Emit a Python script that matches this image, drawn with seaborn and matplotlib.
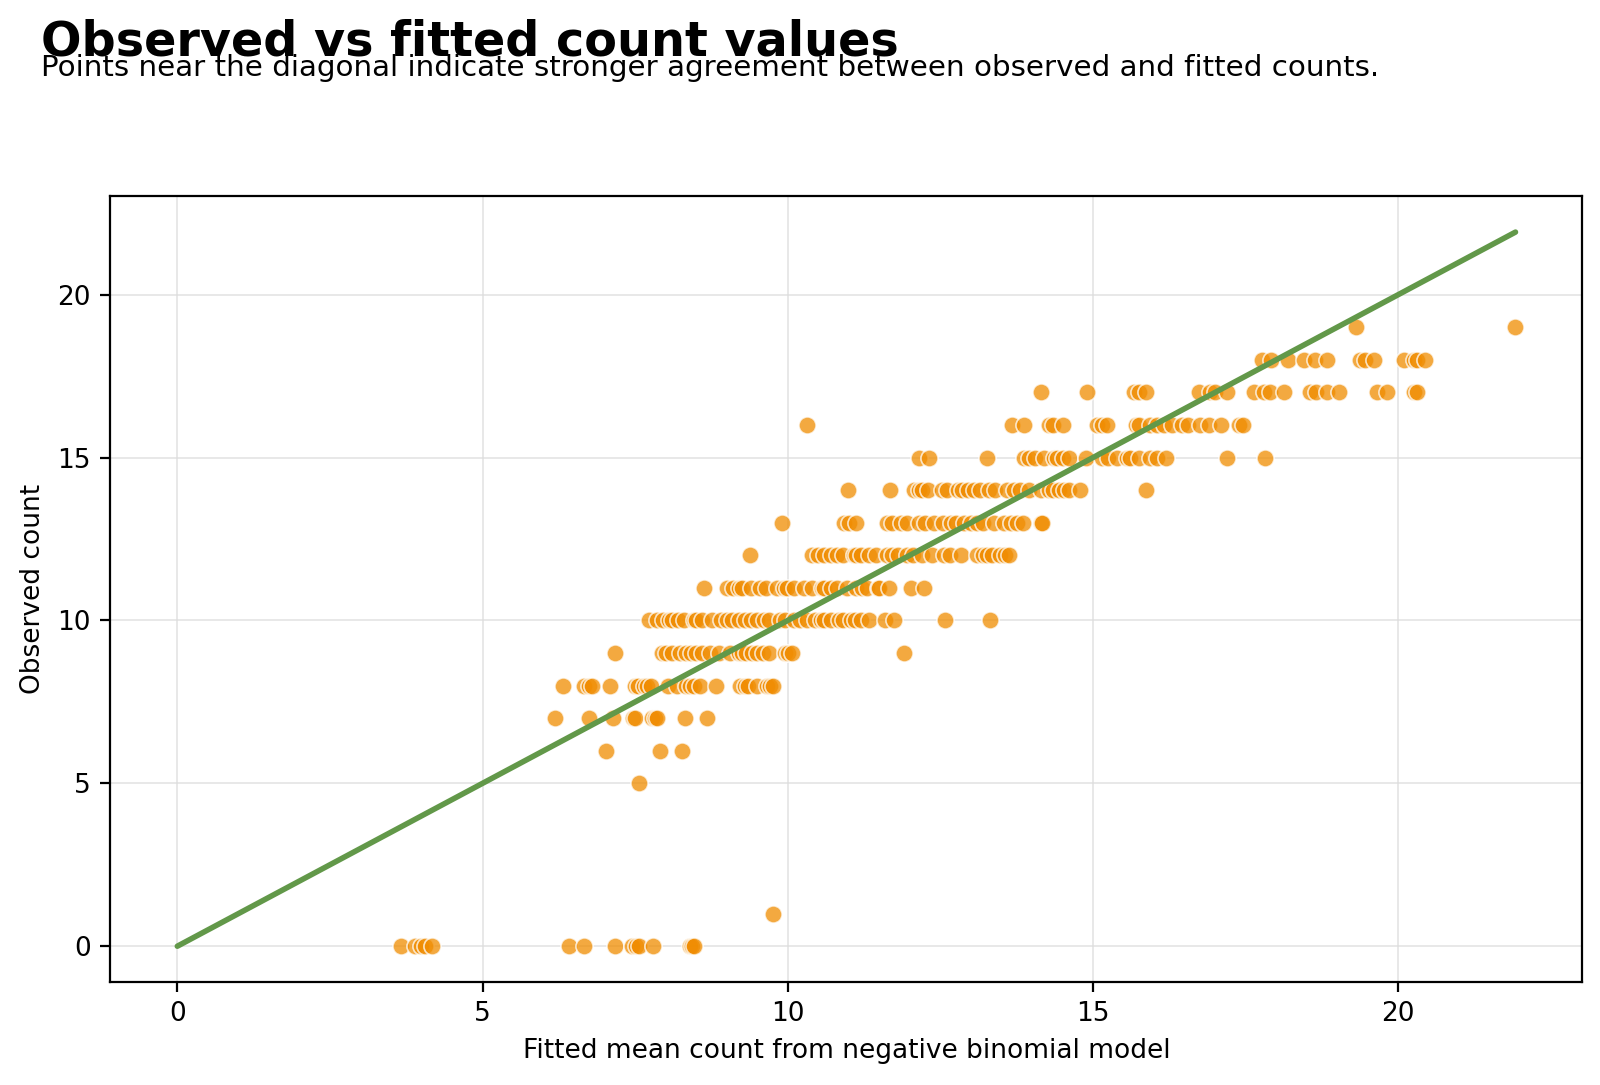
import numpy as np
import pandas as pd
import matplotlib
matplotlib.use("Agg")
import matplotlib.pyplot as plt
import seaborn as sns

# Fitted values, grouped by observed count
fitted_obs_0 = [3.66, 3.90, 3.99, 4.05, 4.18, 6.41, 6.66, 7.17, 7.45, 7.52, 7.56, 7.80, 8.40, 8.43, 8.46]
fitted_obs_1 = [9.76]
fitted_obs_5 = [7.56]
fitted_obs_6 = [7.03, 7.91, 8.26]
fitted_obs_7 = [6.19, 6.74, 7.14, 7.46, 7.50, 7.78, 7.82, 7.86, 8.32, 8.67]
fitted_obs_8 = [6.32, 6.66, 6.75, 6.80, 7.09, 7.50, 7.54, 7.64, 7.70, 7.76, 8.03, 8.19, 8.34,
                8.40, 8.46, 8.57, 8.83, 9.22, 9.30, 9.34, 9.50, 9.66, 9.71, 9.75]
fitted_obs_9 = [7.17, 7.94, 8.00, 8.10, 8.24, 8.33, 8.41, 8.49, 8.60, 8.73, 8.87, 9.05, 9.20,
                9.25, 9.31, 9.42, 9.50, 9.60, 9.69, 9.96, 10.00, 10.07, 11.90]
fitted_obs_10 = [7.73, 7.86, 7.95, 8.05, 8.11, 8.20, 8.30, 8.46, 8.50, 8.60, 8.76, 8.90, 9.00,
                 9.09, 9.20, 9.30, 9.39, 9.50, 9.61, 9.70, 9.88, 9.95, 10.10, 10.20, 10.32,
                 10.45, 10.54, 10.60, 10.70, 10.84, 10.90, 11.03, 11.10, 11.20, 11.33, 11.60,
                 11.74, 12.57, 13.31]
fitted_obs_11 = [8.62, 9.01, 9.10, 9.20, 9.25, 9.40, 9.55, 9.64, 9.83, 9.94, 9.99, 10.10, 10.26,
                 10.40, 10.56, 10.60, 10.70, 10.81, 10.97, 11.11, 11.22, 11.30, 11.47, 11.49,
                 11.66, 12.01, 12.23]
fitted_obs_12 = [9.38, 10.40, 10.50, 10.60, 10.70, 10.81, 10.90, 11.08, 11.11, 11.20, 11.33,
                 11.45, 11.63, 11.70, 11.80, 11.96, 12.05, 12.20, 12.37, 12.56, 12.65, 12.83,
                 13.10, 13.20, 13.27, 13.35, 13.48, 13.55, 13.62]
fitted_obs_13 = [9.90, 10.92, 11.00, 11.11, 11.63, 11.70, 11.85, 11.95, 12.15, 12.25, 12.40,
                 12.55, 12.67, 12.75, 12.88, 13.00, 13.10, 13.20, 13.37, 13.54, 13.65, 13.76,
                 13.85, 14.14, 14.17]
fitted_obs_14 = [10.99, 11.68, 12.07, 12.15, 12.20, 12.30, 12.53, 12.60, 12.78, 12.85, 12.95,
                 13.05, 13.15, 13.29, 13.40, 13.59, 13.70, 13.81, 13.95, 14.14, 14.28, 14.35,
                 14.45, 14.52, 14.60, 14.79, 15.87]
fitted_obs_15 = [12.15, 12.31, 13.27, 13.87, 13.95, 14.05, 14.19, 14.36, 14.41, 14.50, 14.60,
                 14.88, 15.15, 15.25, 15.40, 15.55, 15.61, 15.75, 15.94, 16.05, 16.19, 17.20, 17.82]
fitted_obs_16 = [10.32, 13.68, 13.87, 14.28, 14.35, 14.50, 15.07, 15.15, 15.23, 15.70, 15.75,
                 15.94, 16.05, 16.16, 16.30, 16.46, 16.55, 16.76, 16.90, 17.09, 17.39, 17.45]
fitted_obs_17 = [14.14, 14.90, 15.67, 15.75, 15.86, 16.73, 16.92, 17.00, 17.20, 17.63, 17.80,
                 17.90, 18.12, 18.56, 18.65, 18.83, 19.03, 19.65, 19.82, 20.25, 20.30]
fitted_obs_18 = [17.77, 17.91, 18.20, 18.45, 18.64, 18.83, 19.38, 19.45, 19.60, 20.09, 20.25,
                 20.30, 20.44]
fitted_obs_19 = [19.30, 21.92]

groups = {0: fitted_obs_0, 1: fitted_obs_1, 5: fitted_obs_5, 6: fitted_obs_6, 7: fitted_obs_7,
          8: fitted_obs_8, 9: fitted_obs_9, 10: fitted_obs_10, 11: fitted_obs_11,
          12: fitted_obs_12, 13: fitted_obs_13, 14: fitted_obs_14, 15: fitted_obs_15,
          16: fitted_obs_16, 17: fitted_obs_17, 18: fitted_obs_18, 19: fitted_obs_19}

rows = []
for obs, fits in groups.items():
    for f in fits:
        rows.append((f, obs))
df = pd.DataFrame(rows, columns=["fitted", "observed"])

title = "Observed vs fitted count values"
subtitle = "Points near the diagonal indicate stronger agreement between observed and fitted counts."
xlabel = "Fitted mean count from negative binomial model"
ylabel = "Observed count"

sns.set_style("white")
plt.rcParams['font.family'] = ['DejaVu Sans']
plt.rcParams['text.color'] = 'black'
plt.rcParams['axes.labelcolor'] = 'black'
plt.rcParams['xtick.color'] = 'black'
plt.rcParams['ytick.color'] = 'black'

fig = plt.figure(figsize=(8, 5.425), dpi=200)
ax = fig.add_axes([0.069, 0.095, 0.92, 0.724])

sns.scatterplot(data=df, x="fitted", y="observed", ax=ax, color="#F08C00", alpha=0.75,
                s=38, edgecolor="white", linewidth=0.6, zorder=2)

mx = df["fitted"].max()
line_df = pd.DataFrame({"x": [0, mx], "y": [0, mx]})
sns.lineplot(data=line_df, x="x", y="y", ax=ax, color="#629849", linewidth=2.0, zorder=3)

ax.grid(True, color="#dddddd", linewidth=0.6, alpha=0.8)
ax.set_axisbelow(True)
for sp in ax.spines.values():
    sp.set_visible(True)
    sp.set_color("black")
    sp.set_linewidth(0.8)
ax.tick_params(axis="both", which="both", direction="out", length=3.5, width=0.8,
               labelsize=9.5, left=True, bottom=True, colors="black")
ax.set_xticks([0, 5, 10, 15, 20])
ax.set_yticks([0, 5, 10, 15, 20])
ax.set_xlabel(xlabel, fontsize=9.5, color="black")
ax.set_ylabel(ylabel, fontsize=9.5, color="black")

fig.text(0.0256, 0.949, title, fontsize=17.2, fontweight="bold", va="baseline", ha="left",
         color="black")
fig.text(0.0256, 0.930, subtitle, fontsize=10.6, va="baseline", ha="left", color="black")

fig.savefig("out.png", dpi=200)
